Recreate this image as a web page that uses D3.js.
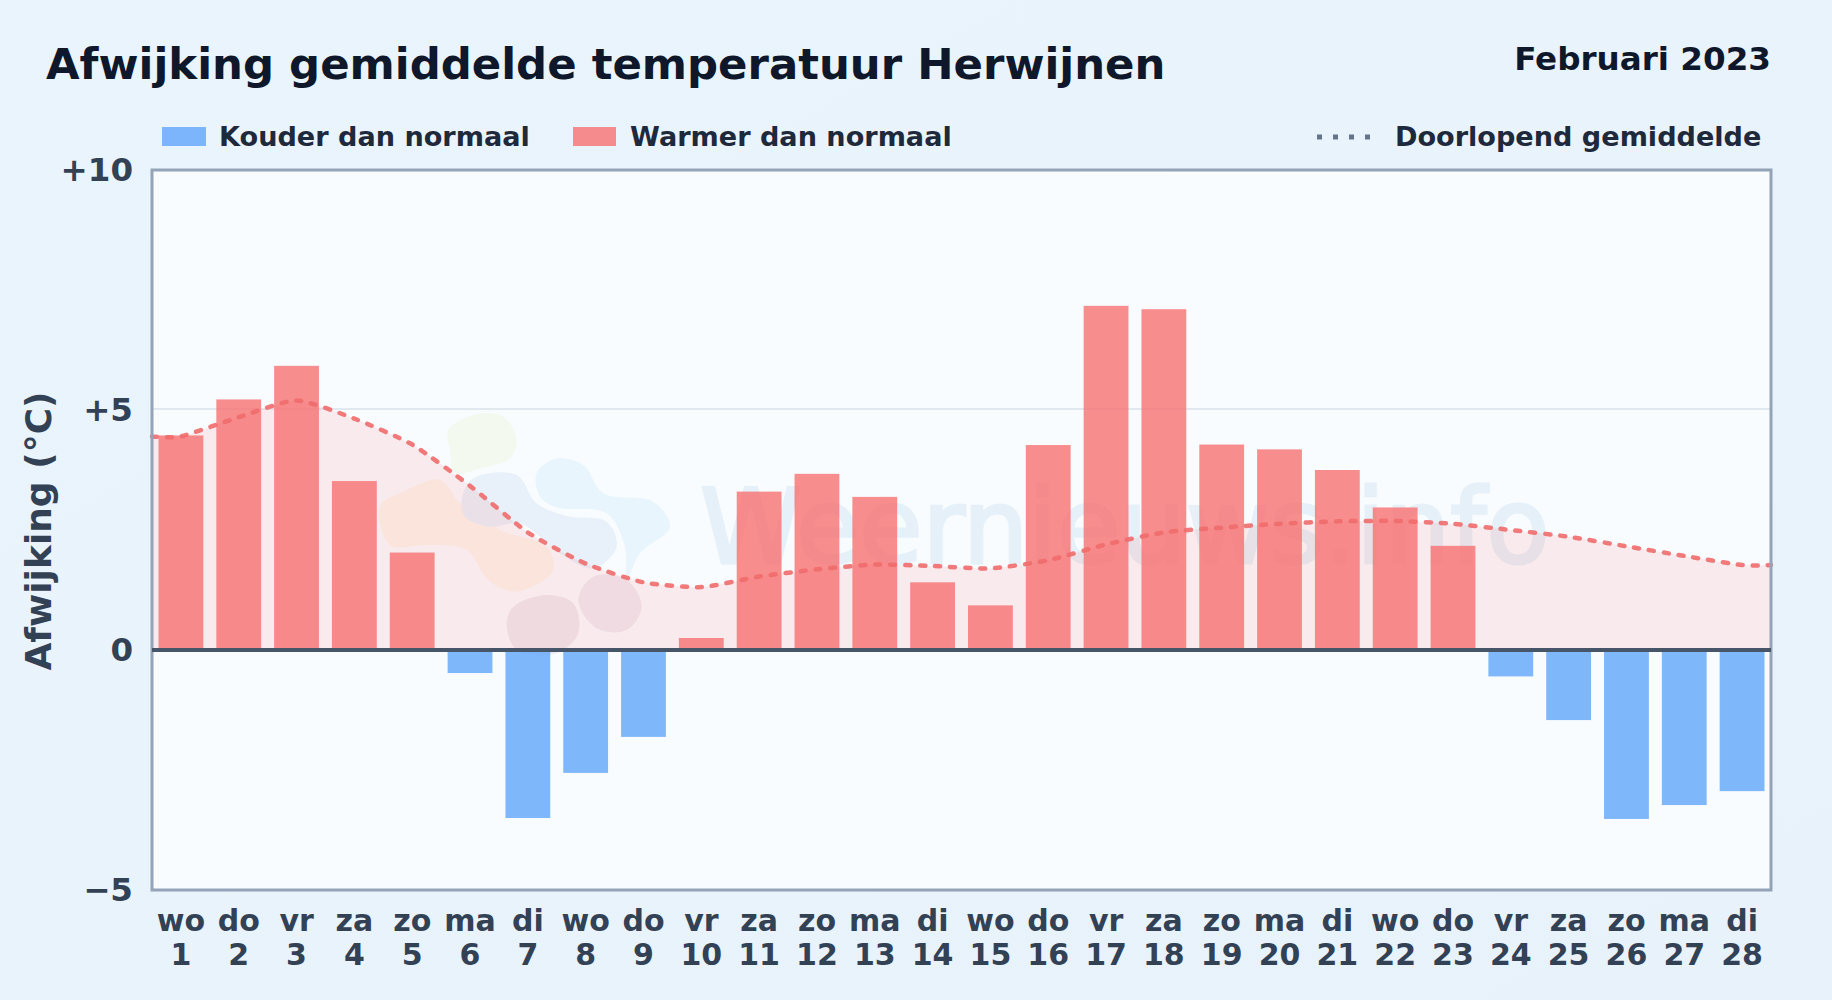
<!DOCTYPE html>
<html>
<head>
<meta charset="utf-8">
<script src="https://cdn.jsdelivr.net/npm/d3@7"></script>
<style>
  html, body { margin: 0; padding: 0; background: #e9f3fc; }
  svg { display: block; font-family: "DejaVu Sans", sans-serif; font-weight: 700; }
</style>
</head>
<body>
<svg id="chart" width="1832" height="1000"></svg>
<script>
const weekdays = ['wo','do','vr','za','zo','ma','di','wo','do','vr','za','zo','ma','di','wo','do','vr','za','zo','ma','di','wo','do','vr','za','zo','ma','di'];
const days = d3.range(1, 29);
const deviation = [4.47,5.22,5.92,3.52,2.03,-0.48,-3.5,-2.56,-1.81,0.25,3.3,3.67,3.19,1.41,0.93,4.27,7.17,7.1,4.28,4.18,3.75,2.97,2.17,-0.55,-1.46,-3.52,-3.23,-2.94];
const runningMean = [4.45,4.85,5.2,4.82,4.28,3.42,2.45,1.8,1.41,1.31,1.53,1.68,1.78,1.75,1.7,1.87,2.2,2.45,2.55,2.63,2.68,2.69,2.63,2.5,2.36,2.16,1.96,1.77];
const yTicks = [-5, 0, 5, 10];

const MARGIN = { top: 170, right: 61, bottom: 110, left: 152 };
const width = 1832, height = 1000;

const svg = d3.select('#chart');
const defs = svg.append('defs');

const bg = defs.append('linearGradient').attr('id', 'bg').attr('x1', 0).attr('y1', 0).attr('x2', 1).attr('y2', 1);
bg.append('stop').attr('offset', 0).attr('stop-color', '#eaf4fc');
bg.append('stop').attr('offset', 1).attr('stop-color', '#e8f2fb');
svg.append('rect').attr('width', width).attr('height', height).attr('fill', 'url(#bg)');

defs.append('filter').attr('id', 'soft').append('feGaussianBlur').attr('stdDeviation', 2);

const x = d3.scaleBand().domain(days).range([MARGIN.left, width - MARGIN.right]).paddingInner(0.225).paddingOuter(0.1125);
const y = d3.scaleLinear().domain([-5, 10]).range([height - MARGIN.bottom, MARGIN.top]);
const cx = (d) => x(d) + x.bandwidth() / 2;

svg.append('rect')
  .attr('x', MARGIN.left).attr('y', MARGIN.top)
  .attr('width', width - MARGIN.left - MARGIN.right)
  .attr('height', height - MARGIN.top - MARGIN.bottom)
  .attr('fill', '#f8fcff');

// gridline
svg.append('line')
  .attr('x1', MARGIN.left).attr('x2', width - MARGIN.right)
  .attr('y1', y(5) - 1).attr('y2', y(5) - 1)
  .attr('stroke', '#e2e8f0').attr('stroke-width', 2);

// watermark logo, blobs
const blob = d3.line().curve(d3.curveCatmullRomClosed);
const logo = svg.append('g')
  .attr('transform', 'translate(360,390) scale(0.3333)')
  .attr('filter', 'url(#soft)');
const blobs = [
  { fill: '#f3f9ee', pts: [[265,120],[350,72],[430,80],[470,150],[450,205],[360,235],[285,250],[270,180]] },
  { fill: '#fcf5ec', pts: [[60,350],[130,305],[240,270],[300,340],[420,420],[560,470],[580,540],[470,605],[385,570],[320,480],[200,465],[90,465]] },
  { fill: '#e8f1f9', pts: [[305,330],[340,265],[470,255],[530,340],[620,378],[740,395],[770,470],[700,535],[600,490],[480,400],[390,410],[315,380]] },
  { fill: '#e9f5fd', pts: [[530,250],[590,205],[670,225],[730,310],[880,335],[930,410],[840,490],[800,570],[795,470],[740,370],[590,352],[540,320]] },
  { fill: '#eeeaf1', pts: [[440,700],[460,650],[560,615],[640,640],[655,730],[590,790],[470,780]] },
  { fill: '#eeebf2', pts: [[655,630],[700,560],[800,570],[845,650],[800,720],[710,715]] }
];
logo.selectAll('path').data(blobs).join('path')
  .attr('d', (d) => blob(d.pts))
  .attr('fill', (d) => d.fill);

svg.append('text')
  .attr('x', 700).attr('y', 563)
  .attr('font-size', 103).attr('font-weight', 400)
  .attr('stroke', '#e6f0f9').attr('stroke-width', 3)
  .attr('fill', '#e6f0f9')
  .text('Weernieuws.info');

// area + running mean, held flat out to the plot edges
const meanPts = runningMean.map((v, i) => [cx(days[i]), v]);
meanPts.unshift([MARGIN.left, runningMean[0]]);
meanPts.push([width - MARGIN.right, runningMean[runningMean.length - 1]]);
const meanCurve = d3.curveCardinal.tension(0.4);

svg.append('path')
  .attr('d', d3.area().curve(meanCurve).x((d) => d[0]).y0(y(0)).y1((d) => y(d[1]))(meanPts))
  .attr('fill', '#f87171').attr('opacity', 0.13);

svg.append('g').selectAll('rect').data(days).join('rect')
  .attr('x', (d) => x(d))
  .attr('width', x.bandwidth())
  .attr('y', (d, i) => y(Math.max(0, deviation[i])))
  .attr('height', (d, i) => Math.abs(y(deviation[i]) - y(0)))
  .attr('fill', (d, i) => deviation[i] < 0 ? '#60a5fa' : '#f87171')
  .attr('opacity', 0.8);

svg.append('path')
  .attr('d', d3.line().curve(meanCurve).x((d) => d[0]).y((d) => y(d[1]))(meanPts))
  .attr('fill', 'none').attr('stroke', '#ef6b6b').attr('stroke-width', 4.5).attr('opacity', 0.9)
  .attr('stroke-dasharray', '5 10').attr('stroke-linecap', 'round');

// frame + zero line
svg.append('rect')
  .attr('x', MARGIN.left).attr('y', MARGIN.top)
  .attr('width', width - MARGIN.left - MARGIN.right)
  .attr('height', height - MARGIN.top - MARGIN.bottom)
  .attr('fill', 'none').attr('stroke', '#94a3b8').attr('stroke-width', 3);
svg.append('line')
  .attr('x1', MARGIN.left).attr('x2', width - MARGIN.right)
  .attr('y1', y(0)).attr('y2', y(0))
  .attr('stroke', '#475569').attr('stroke-width', 4);

// axes
const yAxis = svg.append('g')
  .attr('transform', `translate(${MARGIN.left},0)`)
  .call(d3.axisLeft(y).tickValues(yTicks).tickSize(0).tickPadding(19)
    .tickFormat((d) => d > 0 ? `+${d}` : d < 0 ? `\u2212${-d}` : '0'));
yAxis.select('.domain').remove();
yAxis.selectAll('text').attr('font-size', 32.5).attr('fill', '#334155').attr('font-family', 'DejaVu Sans').attr('font-weight', 700);

const xAxis = svg.append('g')
  .attr('transform', `translate(0,${height - MARGIN.bottom})`)
  .call(d3.axisBottom(x).tickSize(0).tickFormat(''));
xAxis.select('.domain').remove();
xAxis.selectAll('.tick').each(function (d, i) {
  const t = d3.select(this).select('text')
    .attr('font-size', 30).attr('fill', '#334155')
    .attr('font-family', 'DejaVu Sans').attr('font-weight', 700)
    .attr('y', 0).attr('dy', 0);
  t.append('tspan').attr('x', 0).attr('y', 41).text(weekdays[i]);
  t.append('tspan').attr('x', 0).attr('y', 74.5).text(d);
});

// titles
svg.append('text').attr('x', 46).attr('y', 79).attr('font-size', 43.4).attr('fill', '#0f172a')
  .text('Afwijking gemiddelde temperatuur Herwijnen');
svg.append('text').attr('x', 1771).attr('y', 70).attr('text-anchor', 'end').attr('font-size', 32.6).attr('fill', '#0f172a')
  .text('Februari 2023');
svg.append('text')
  .attr('transform', 'translate(51,531) rotate(-90)')
  .attr('text-anchor', 'middle').attr('font-size', 36).attr('fill', '#334155')
  .text('Afwijking (°C)');

// legend
const legend = svg.append('g').attr('font-size', 27.1).attr('fill', '#1e293b');
legend.append('rect').attr('x', 162).attr('y', 127).attr('width', 44).attr('height', 19).attr('fill', '#60a5fa').attr('opacity', 0.8);
legend.append('text').attr('x', 219).attr('y', 146).text('Kouder dan normaal');
legend.append('rect').attr('x', 573).attr('y', 127).attr('width', 43).attr('height', 19).attr('fill', '#f87171').attr('opacity', 0.8);
legend.append('text').attr('x', 630).attr('y', 146).text('Warmer dan normaal');
legend.append('line').attr('x1', 1317).attr('x2', 1376).attr('y1', 137).attr('y2', 137)
  .attr('stroke', '#64748b').attr('stroke-width', 5).attr('stroke-dasharray', '5 11');
legend.append('text').attr('x', 1395).attr('y', 146).text('Doorlopend gemiddelde');
</script>
</body>
</html>
